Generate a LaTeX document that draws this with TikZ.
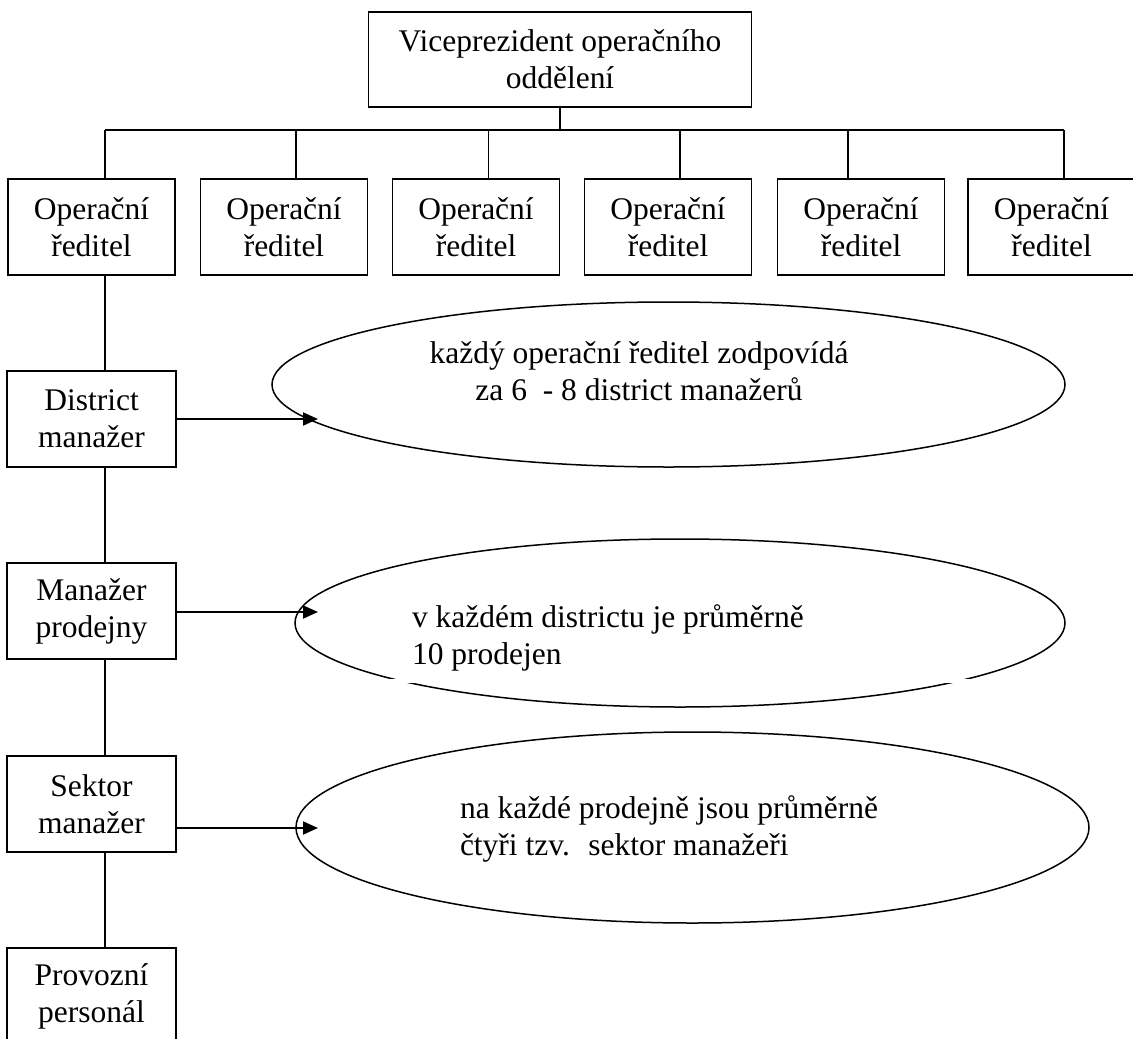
\documentclass[tikz,border=0pt]{standalone}
\usepackage{fontspec}
\setmainfont{Liberation Serif}
\usetikzlibrary{shapes.geometric,arrows.meta}
\begin{document}
\begin{tikzpicture}[x=1pt,y=-1pt,
  every node/.style={inner sep=0pt,outer sep=0pt},
  txt/.style={font=\fontsize{31.5}{37}\selectfont},
  box/.style={txt,draw,line width=1.6pt,align=center,minimum height=96pt},
  unit/.style={box,minimum width=167pt},
  oval/.style={ellipse,draw,line width=1.5pt},
  link/.style={line width=1.3pt},
  pointer/.style={line width=2pt,-{Triangle[length=15pt,width=13pt]}}]
\useasboundingbox (0,0) rectangle (1133,1039);
\clip (0,0) rectangle (1133,1039);

% top of the hierarchy
\node[box,minimum width=383pt,minimum height=95pt] (vp) at (560,59.5)
  {Viceprezident operačního\\oddělení};

% six operations directors
\node[unit] (op1) at (91.5,227) {Operační\\ředitel};
\node[unit] (op2) at (284,227) {Operační\\ředitel};
\node[unit] (op3) at (476,227) {Operační\\ředitel};
\node[unit] (op4) at (668,227) {Operační\\ředitel};
\node[unit] (op5) at (861,227) {Operační\\ředitel};
\node[unit] (op6) at (1051.5,227) {Operační\\ředitel};

% bus connecting the directors
\coordinate (d1) at (105,130);
\coordinate (d2) at (296,130);
\coordinate (d3) at (488.5,130);
\coordinate (d4) at (680,130);
\coordinate (d5) at (848,130);
\coordinate (d6) at (1064,130);
\draw[link] (vp.south) -- (vp.south |- d1);
\draw[link] (d1) -- (d6);
\foreach \i in {1,...,6}{
  \draw[link] (d\i) -- (d\i |- op\i.north);
}

% line of command below the first director
\node[box,minimum width=169pt] (dm) at (91.5,419) {District\\manažer};
\node[box,minimum width=169pt] (mp) at (91.5,611) {Manažer\\prodejny};
\node[box,minimum width=169pt] (sm) at (91.5,804) {Sektor\\manažer};
\node[box,minimum width=169pt] (pp) at (91.5,996) {Provozní\\personál};

\coordinate (spine) at (105,0);
\draw[link] (op1.south -| spine) -- (dm.north -| spine);
\draw[link] (dm.south -| spine) -- (mp.north -| spine);
\draw[link] (mp.south -| spine) -- (sm.north -| spine);
\draw[link] (sm.south -| spine) -- (pp.north -| spine);

% explanatory ovals
\node[oval,minimum width=793pt,minimum height=165pt] (e1) at (668.5,384.5) {};
\node[oval,minimum width=770pt,minimum height=168pt] (e2) at (680,623) {};
\fill[white] (385,679.2) rectangle (980,682.8);
\node[oval,minimum width=793pt,minimum height=191pt] (e3) at (692.5,827.5) {};

\node[txt,align=center,anchor=north] (n1) at (639,337.1)
  {\strut každý operační ředitel zodpovídá\\\strut za 6~ - 8 district manažerů};
\node[txt,align=left,anchor=north west] (n2) at (412,601.1)
  {\strut v každém districtu je průměrně\\\strut 10 prodejen};
\node[txt,align=left,anchor=north west] (n3) at (460,792.1)
  {\strut na každé prodejně jsou průměrně\\\strut čtyři tzv.~ sektor manažeři};

% arrows into the ovals
\coordinate (t1) at (318,419);
\coordinate (t2) at (318,612);
\coordinate (t3) at (318,828);
\draw[pointer] (dm.east |- t1) -- (t1);
\draw[pointer] (mp.east |- t2) -- (t2);
\draw[pointer] (sm.east |- t3) -- (t3);
\end{tikzpicture}
\end{document}
